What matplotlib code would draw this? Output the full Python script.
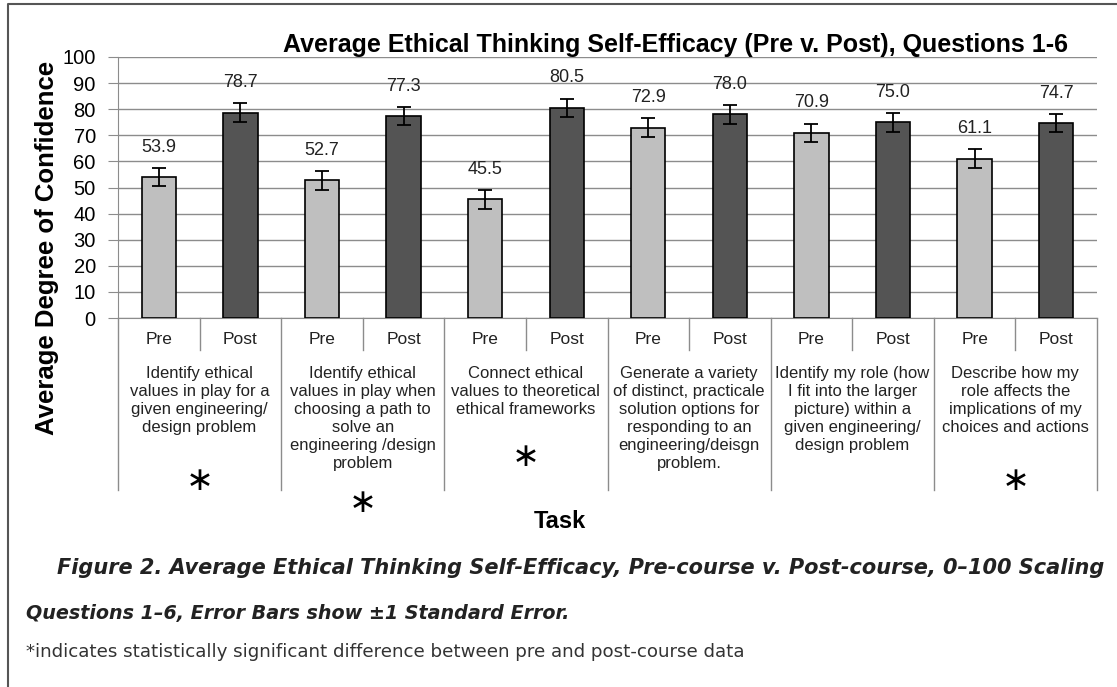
import numpy as np
import matplotlib
matplotlib.use('Agg')
import matplotlib.pyplot as plt
from matplotlib import transforms
from matplotlib.lines import Line2D

# data
tasks = ["Identify ethical\nvalues in play for a\ngiven engineering/\ndesign problem",
         "Identify ethical\nvalues in play when\nchoosing a path to\nsolve an\nengineering /design\nproblem",
         "Connect ethical\nvalues to theoretical\nethical frameworks",
         "Generate a variety\nof distinct, practicale\nsolution options for\nresponding to an\nengineering/deisgn\nproblem.",
         "Identify my role (how\nI fit into the larger\npicture) within a\ngiven engineering/\ndesign problem",
         "Describe how my\nrole affects the\nimplications of my\nchoices and actions"]
phases = ["Pre", "Post"]
pre_mean = [53.9, 52.7, 45.5, 72.9, 70.9, 61.1]
post_mean = [78.7, 77.3, 80.5, 78.0, 75.0, 74.7]
pre_se = [3.5, 3.5, 3.7, 3.6, 3.5, 3.6]
post_se = [3.6, 3.5, 3.4, 3.5, 3.7, 3.5]
significant = [True, True, True, False, False, True]
yticks = list(range(0, 101, 10))

title = "Average Ethical Thinking Self-Efficacy (Pre v. Post), Questions 1-6"
ylab = "Average Degree of Confidence"
xlab = "Task"
cap1 = "Figure 2. Average Ethical Thinking Self-Efficacy, Pre-course v. Post-course, 0\u2013100 Scaling"
cap2 = "Questions 1\u20136, Error Bars show \u00b11 Standard Error."
cap3 = "*indicates statistically significant difference between pre and post-course data"

W, H = 1117, 687
def fy(py):
    return 1 - py / H
def fx(px):
    return px / W

plt.rcParams['font.family'] = ['Liberation Sans', 'DejaVu Sans']

fig = plt.figure(figsize=(W / 100, H / 100), dpi=100)
ax = fig.add_axes([fx(118), fy(318), fx(1097) - fx(118), fy(57) - fy(318)])

vals = np.ravel(np.column_stack([pre_mean, post_mean]))
errs = np.ravel(np.column_stack([pre_se, post_se]))
x = np.arange(len(vals))
colors = ['#bfbfbf', '#545454'] * len(tasks)

ax.bar(x, vals, width=0.42, color=colors, edgecolor='black', linewidth=1.2,
       yerr=errs, capsize=5,
       error_kw=dict(elinewidth=1.3, capthick=1.3, ecolor='black'), zorder=3)
for xi, v in zip(x, vals):
    ax.text(xi, v + 11.5, '%.1f' % v, ha='center', va='center', fontsize=13, color='#222222')

ax.set_xlim(-0.5, len(vals) - 0.5)
ax.set_ylim(0, 100)
ax.set_yticks(yticks)
ax.yaxis.grid(True, color='#8c8c8c', linewidth=1)
ax.set_axisbelow(True)
ax.set_xticks([])
ax.tick_params(axis='y', length=7, color='#8c8c8c', labelsize=14.5, pad=9)
for s in ['top', 'right']:
    ax.spines[s].set_visible(False)
for s in ['left', 'bottom']:
    ax.spines[s].set_color('#8c8c8c')

# table-like category axis below the plot
trans = transforms.blended_transform_factory(ax.transData, fig.transFigure)
for g in range(len(tasks) + 1):
    ax.plot([2 * g - 0.5] * 2, [fy(318), fy(490)], color='#8c8c8c', lw=1,
            transform=trans, clip_on=False)
for g in range(len(tasks)):
    ax.plot([2 * g + 0.5] * 2, [fy(318), fy(350)], color='#8c8c8c', lw=1,
            transform=trans, clip_on=False)
for xi in x:
    ax.text(xi, fy(340), phases[xi % 2], transform=trans, ha='center', va='center',
            fontsize=12.5, color='#222222')

star_y = [480, 502, 457, 480, 480, 480]
for g, t in enumerate(tasks):
    ax.text(2 * g + 0.5, fy(366), t, transform=trans, ha='center', va='top',
            fontsize=12, linespacing=1.25, color='#222222')
    if significant[g]:
        ax.text(2 * g + 0.5, fy(star_y[g]), '\u2217', transform=trans, ha='center',
                va='center', fontsize=24, family='DejaVu Sans')

renderer = fig.canvas.get_renderer()
def fit(t, width):
    w = t.get_window_extent(renderer=renderer).width
    t.set_fontsize(t.get_fontsize() * width / w)
    return t.get_fontsize()

fit(fig.text(fx(283), fy(45), title, ha='left', va='center', fontsize=15,
             fontweight='bold'), 789)
fig.text(fx(47), fy(248), ylab, rotation=90, ha='center', va='center',
         fontsize=18.5, fontweight='bold')
fig.text(fx(560), fy(522), xlab, ha='center', va='center', fontsize=17, fontweight='bold')

cap_size = fit(fig.text(fx(57), fy(568), cap1, ha='left', va='center', fontsize=13,
                        fontweight='bold', style='italic', family='DejaVu Sans',
                        color='#222222'), 1045)
fig.text(fx(26), fy(614), cap2, ha='left', va='center', fontsize=cap_size * 0.92,
         fontweight='bold', style='italic', family='DejaVu Sans', color='#222222')
fit(fig.text(fx(26), fy(652), cap3, ha='left', va='center', fontsize=12,
             family='DejaVu Sans', color='#333333'), 717)

# outer frame (left and top)
fig.add_artist(Line2D([fx(8), fx(8), 1.0], [0.0, fy(4), fy(4)], color='#555555', lw=1.5,
                      transform=fig.transFigure))

fig.savefig('out.png', dpi=100)
